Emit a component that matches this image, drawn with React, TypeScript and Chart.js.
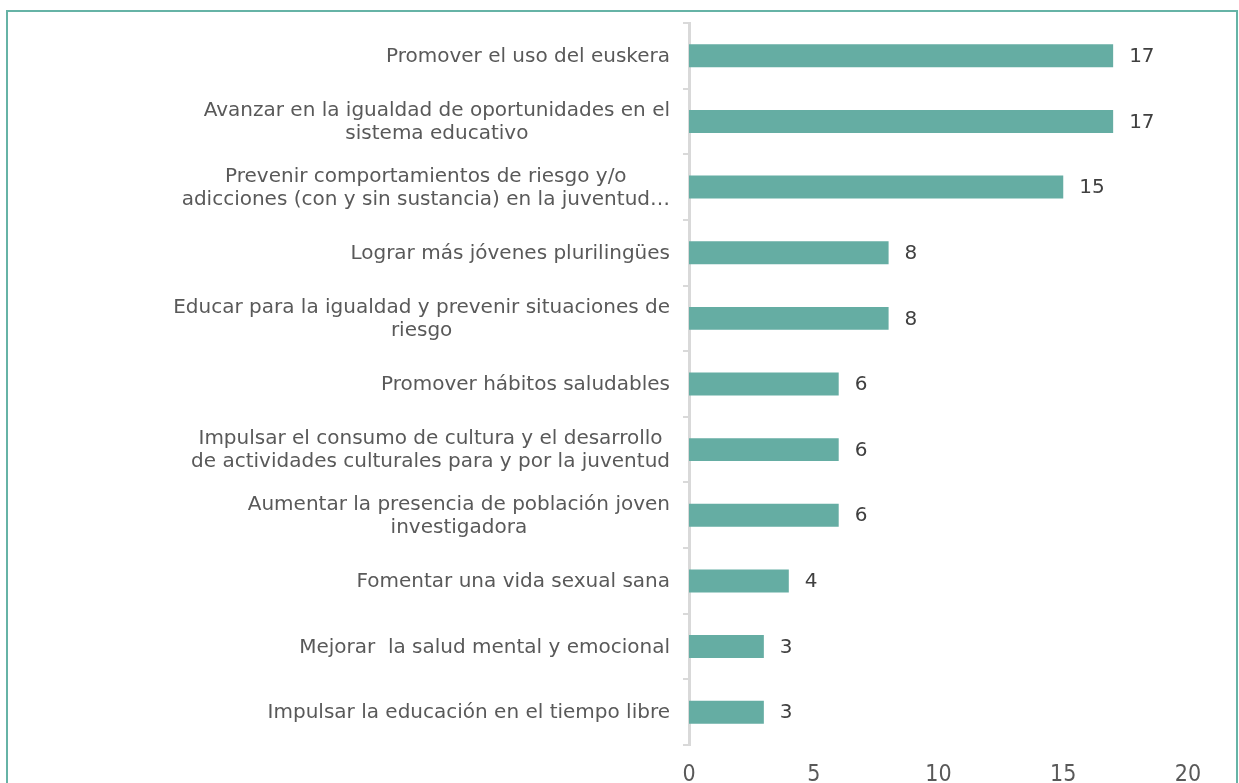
import { useEffect, useRef } from "react";
import { Chart, registerables } from "chart.js";

Chart.register(...registerables);

const categories: (string | string[])[] = [
  "Promover el uso del euskera",
  ["Avanzar en la igualdad de oportunidades en el", "sistema educativo"],
  ["Prevenir comportamientos de riesgo y/o", "adicciones (con y sin sustancia) en la juventud…"],
  "Lograr más jóvenes plurilingües",
  ["Educar para la igualdad y prevenir situaciones de", "riesgo"],
  "Promover hábitos saludables",
  ["Impulsar el consumo de cultura y el desarrollo", "de actividades culturales para y por la juventud"],
  ["Aumentar la presencia de población joven", "investigadora"],
  "Fomentar una vida sexual sana",
  "Mejorar  la salud mental y emocional",
  "Impulsar la educación en el tiempo libre",
];

const values = [17, 17, 15, 8, 8, 6, 6, 6, 4, 3, 3];

const xMin = 0;
const xMax = 20;
const xStep = 5;

const BAR_COLOR = "#65ADA3";
const FRAME_COLOR = "#66B3A6";
const AXIS_COLOR = "#D9D9D9";
const LABEL_COLOR = "#595959";
const VALUE_COLOR = "#404040";
const LABEL_FONT = '20px "DejaVu Sans", Verdana, sans-serif';

export default function App() {
  const ref = useRef<HTMLCanvasElement>(null);

  useEffect(() => {
    if (!ref.current) return;

    const labelPlugin = {
      id: "catLabels",
      afterDraw(chart: any) {
        const ctx = chart.ctx as CanvasRenderingContext2D;
        const yScale = chart.scales.y;
        ctx.save();
        ctx.font = LABEL_FONT;
        ctx.fillStyle = LABEL_COLOR;
        ctx.textBaseline = "middle";
        ctx.textAlign = "center";
        const rightEdge = chart.chartArea.left - 19;
        const lineH = 23;
        categories.forEach((lab, i) => {
          const lines = Array.isArray(lab) ? lab : [lab];
          const maxW = Math.max(...lines.map((l) => ctx.measureText(l).width));
          const cx = rightEdge - maxW / 2;
          const cy = yScale.getPixelForValue(i) + 1;
          lines.forEach((l, j) => {
            ctx.fillText(l, cx, cy + (j - (lines.length - 1) / 2) * lineH);
          });
        });
        const meta = chart.getDatasetMeta(0);
        ctx.fillStyle = VALUE_COLOR;
        ctx.textAlign = "left";
        meta.data.forEach((bar: any, i: number) => {
          ctx.fillText(String(values[i]), bar.x + 16, bar.y + 1);
        });
        ctx.restore();
      },
    };

    const chart = new Chart(ref.current, {
      type: "bar",
      data: {
        labels: categories.map((c) => (Array.isArray(c) ? c.join(" ") : c)),
        datasets: [
          {
            data: values,
            backgroundColor: BAR_COLOR,
            borderWidth: 0,
            barPercentage: 0.35,
            categoryPercentage: 1,
          },
        ],
      },
      options: {
        indexAxis: "y",
        animation: false,
        responsive: false,
        layout: { padding: { left: 0, right: 48, top: 11, bottom: 27 } },
        plugins: {
          legend: { display: false },
          tooltip: { enabled: false },
        },
        scales: {
          x: {
            type: "linear",
            min: xMin,
            max: xMax,
            ticks: {
              stepSize: xStep,
              color: LABEL_COLOR,
              font: { family: '"DejaVu Sans Condensed", "DejaVu Sans", sans-serif', size: 23 },
              padding: 8,
            },
            grid: { display: false },
            border: { display: false },
            afterFit: (s: any) => {
              s.height = 40;
            },
          },
          y: {
            type: "category",
            offset: true,
            z: 1,
            ticks: { display: false },
            grid: {
              offset: true,
              drawOnChartArea: false,
              drawTicks: true,
              tickLength: 6,
              color: AXIS_COLOR,
              lineWidth: 2,
            },
            border: { display: true, color: AXIS_COLOR, width: 3 },
            afterFit: (s: any) => {
              s.width = 681;
            },
          },
        },
      },
      plugins: [labelPlugin],
    });

    return () => chart.destroy();
  }, []);

  return (
    <div style={{ position: "fixed", inset: 0, overflow: "hidden", background: "#fff" }}>
      <div
        style={{
          position: "absolute",
          left: 6,
          top: 10,
          width: 1232,
          height: 804,
          border: `2px solid ${FRAME_COLOR}`,
          boxSizing: "border-box",
          background: "#fff",
        }}
      >
        <canvas ref={ref} width={1228} height={800} style={{ display: "block" }} />
      </div>
    </div>
  );
}
